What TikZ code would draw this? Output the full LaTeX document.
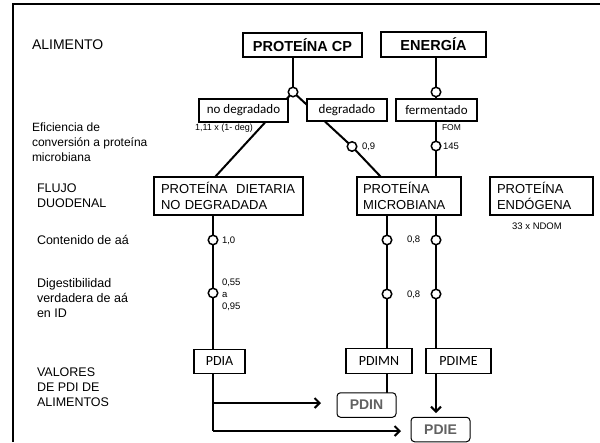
\documentclass[tikz,border=0pt]{standalone}
\usepackage{fontspec}
\setmainfont{Liberation Sans}
\newfontfamily\calfont{Carlito}
\usetikzlibrary{arrows.meta,backgrounds}
\begin{document}
\begin{tikzpicture}[x=1pt,y=-1pt,
  every node/.style={inner sep=0pt, outer sep=0pt},
  lbl/.style={anchor=west, align=left, font=\fontsize{12.5}{15}\selectfont},
  small/.style={anchor=west, align=left, font=\fontsize{9.5}{12}\selectfont},
  bigbox/.style={draw, line width=1.2pt, fill=white, font=\bfseries\fontsize{14.5}{17}\selectfont},
  subbox/.style={draw, line width=1.2pt, fill=white, font=\calfont\fontsize{13}{15}\selectfont},
  flowbox/.style={draw, line width=1.2pt, fill=white, align=left, inner xsep=7pt, font=\fontsize{13}{16}\selectfont, minimum height=38pt},
  pdibox/.style={draw, line width=1.2pt, fill=white, font=\calfont\fontsize{14}{16}\selectfont, minimum width=#1, minimum height=24.5pt},
  finbox/.style={draw, line width=1pt, rounded corners=3.5pt, fill=white, minimum width=59pt, minimum height=24.5pt, text=black!62, font=\bfseries\fontsize{14}{16}\selectfont},
  knot/.style={circle, draw, line width=1.5pt, fill=white, minimum size=9.5pt},
  flow/.style={line width=2pt},
  arr/.style={line width=2pt, -{Straight Barb[length=5pt,width=10pt,line width=2pt]}}
]
\useasboundingbox (0,0) rectangle (600,442);
% frame (top and left sides)
\draw[line width=2.2pt] (13,442) -- (13,4) -- (600,4);

% left labels
\node[lbl, font=\fontsize{14}{17}\selectfont] (l1) at (32,45) {ALIMENTO};
\node[lbl, font=\fontsize{12}{15}\selectfont] (l2) at (32,142) {Eficiencia de\\conversión a proteína\\microbiana};
\node[lbl] (l3) at (37,196) {FLUJO\\DUODENAL};
\node[lbl] (l4) at (37,240) {Contenido de aá};
\node[lbl] (l5) at (37,298) {Digestibilidad\\verdadera de aá\\en ID};
\node[lbl] (l6) at (37,387) {VALORES\\DE PDI DE\\ALIMENTOS};

% top boxes
\node[bigbox, minimum width=119pt, minimum height=24pt] (pcp) at (302.5,45) {PROTEÍNA CP};
\node[bigbox, minimum width=105pt, minimum height=25pt] (ene) at (433.5,44.5) {ENERGÍA};

\node[subbox, minimum width=89pt, minimum height=23pt] (nodeg) at (243.5,110.5) {no degradado};
\node[subbox, minimum width=80pt, minimum height=22pt] (deg) at (347,110) {degradado};
\node[subbox, minimum width=81pt, minimum height=22pt] (fer) at (436.5,110) {fermentado};

% flow boxes
\node[flowbox, text width=135pt] (pdnd) at (228.5,196) {PROTEÍNA\ \ DIETARIA\\NO DEGRADADA};
\node[flowbox, inner xsep=6pt, text width=92pt] (mic) at (409,196) {PROTEÍNA\\MICROBIANA};
\node[flowbox, text width=89pt] (endo) at (541.5,196) {PROTEÍNA\\ENDÓGENA};

% PDI boxes
\node[pdibox=51pt] (pdia) at (219.5,361.5) {PDIA};
\node[pdibox=66pt] (pdimn) at (379,361) {PDIMN};
\node[pdibox=65pt] (pdime) at (458.5,361) {PDIME};
\node[finbox] (pdin) at (366.5,405) {PDIN};
\node[finbox] (pdie) at (440.5,429.5) {PDIE};

% knots
\node[knot] (k0) at (293,92) {};
\node[knot] (kdeg) at (352,146.5) {};
\node[knot] (ke0) at (436,92) {};
\node[knot] (ke1) at (436,146) {};
\node[knot] (ka1) at (213,240) {};
\node[knot] (ka2) at (213,293) {};
\node[knot] (km1) at (387,240) {};
\node[knot] (km2) at (387,294) {};
\node[knot] (kx1) at (436,240) {};
\node[knot] (kx2) at (436,294) {};

% connector end points
\coordinate (pdndtop) at (215,177);
\coordinate (mictop) at (381,177);
\coordinate (pa) at (213,215);
\coordinate (pm) at (387,215);
\coordinate (pe) at (436,215);
\coordinate (ta) at (213,403);
\coordinate (tb) at (213,431);
\coordinate (ea) at (321,403);
\coordinate (eb) at (401,431);
\coordinate (ee) at (436,413);

% small labels
\node[small, font=\fontsize{9}{11}\selectfont] (s1) at (195,128) {1,11 x (1- deg)};
\node[small] (s2) at (362,146.5) {0,9};
\node[small, font=\fontsize{8.5}{10}\selectfont] (s3) at (442,128) {FOM};
\node[small] (s4) at (443,146) {145};
\node[small, anchor=center] (s5) at (537,226) {33 x NDOM};
\node[small] (s6) at (222,241) {1,0};
\node[small] (s7) at (222,295) {0,55\\a\\0,95};
\node[small] (s8) at (407,240) {0,8};
\node[small] (s9) at (407,295) {0,8};

\begin{pgfonlayer}{background}
  \draw[flow] (k0 |- pcp.south) -- (k0);
  \draw[flow] (k0) -- (pdndtop);
  \draw[flow] (k0) -- (kdeg) -- (mictop);
  \draw[flow] (ke0 |- ene.south) -- (ke0) -- (ke1) -- (ke1 |- mic.north);
  \draw[flow] (pa) -- (ka1) -- (ka2) -- (tb);
  \draw[arr] (ta) -- (ea);
  \draw[arr] (tb) -- (eb);
  \draw[flow] (pm) -- (km1) -- (km2) -- (pm |- pdin.north);
  \draw[flow] (pe) -- (kx1) -- (kx2) -- (pe |- pdime.south);
  \draw[arr] (pe |- pdime.south) -- (ee);
\end{pgfonlayer}
\end{tikzpicture}
\end{document}
